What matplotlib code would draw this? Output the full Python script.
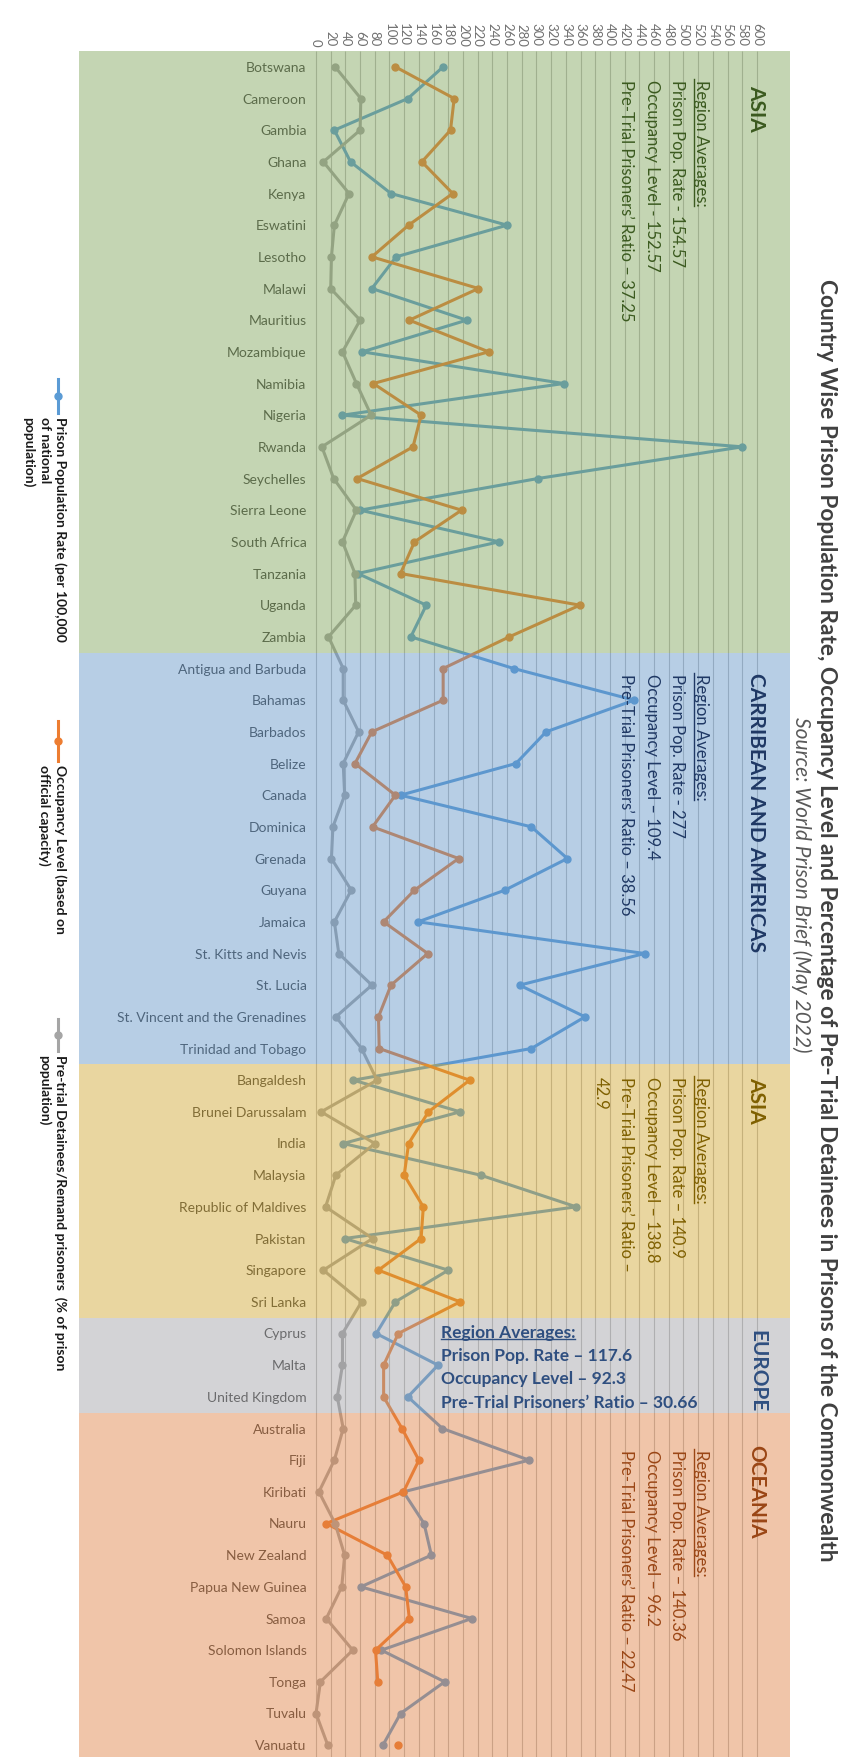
import numpy as np
import matplotlib.pyplot as plt
from matplotlib.lines import Line2D

plt.rcParams['font.family'] = ['Lato', 'DejaVu Sans']

W, H = 845, 1758

## Länder i samma ordning som i bilden (uppifrån och ned)
countries = [
    'Botswana', 'Cameroon', 'Gambia', 'Ghana', 'Kenya', 'Eswatini', 'Lesotho',
    'Malawi', 'Mauritius', 'Mozambique', 'Namibia', 'Nigeria', 'Rwanda',
    'Seychelles', 'Sierra Leone', 'South Africa', 'Tanzania', 'Uganda', 'Zambia',
    'Antigua and Barbuda', 'Bahamas', 'Barbados', 'Belize', 'Canada', 'Dominica',
    'Grenada', 'Guyana', 'Jamaica', 'St. Kitts and Nevis', 'St. Lucia',
    'St. Vincent and the Grenadines', 'Trinidad and Tobago',
    'Bangaldesh', 'Brunei Darussalam', 'India', 'Malaysia', 'Republic of Maldives',
    'Pakistan', 'Singapore', 'Sri Lanka',
    'Cyprus', 'Malta', 'United Kingdom',
    'Australia', 'Fiji', 'Kiribati', 'Nauru', 'New Zealand', 'Papua New Guinea',
    'Samoa', 'Solomon Islands', 'Tonga', 'Tuvalu', 'Vanuatu',
]

## Avlästa värden
prison_rate = [
    173, 125, 25, 47, 102, 260, 109, 76, 205, 63, 337, 36, 580, 302, 60, 249, 57, 150, 129,
    269, 433, 313, 272, 115, 293, 342, 257, 139, 447, 277, 366, 293,
    51, 196, 37, 224, 354, 39, 180, 108,
    82, 166, 125,
    172, 290, 119, 147, 157, 61, 212, 89, 175, 115, 91,
]
occupancy = [
    108, 188, 183, 144, 186, 126, 76, 221, 127, 235, 78, 143, 132, 56, 198, 134, 115, 359, 263,
    173, 173, 76, 53, 108, 77, 194, 134, 92, 152, 102, 85, 86,
    209, 153, 126, 120, 146, 143, 85, 196,
    112, 92, 92,
    117, 140, 119, 14, 97, 122, 127, 81, 84, np.nan, 112,
]
pretrial = [
    26, 61, 60, 10, 45, 25, 21, 20, 60, 36, 55, 75, 8, 24, 55, 36, 53, 54, 17,
    37, 37, 58, 37, 39, 23, 21, 48, 25, 31, 76, 27, 62,
    83, 7, 80, 27, 13, 77, 10, 62,
    36, 36, 29,
    37, 25, 4, 26, 39, 35, 14, 50, 6, 0, 16,
]

region_names = ['ASIA', 'CARRIBEAN AND AMERICAS', 'ASIA', 'EUROPE', 'OCEANIA']
region_sizes = [19, 13, 8, 3, 11]
region_stats = [
    ['Region Averages:', 'Prison Pop. Rate - 154.57', 'Occupancy Level - 152.57',
     'Pre-Trial Prisoners\u2019 Ratio \u2013 37.25'],
    ['Region Averages:', 'Prison Pop. Rate - 277', 'Occupancy Level \u2013 109.4',
     'Pre-Trial Prisoners\u2019 Ratio \u2013 38.56'],
    ['Region Averages:', 'Prison Pop. Rate \u2013 140.9', 'Occupancy Level \u2013 138.8',
     'Pre-Trial Prisoners\u2019 Ratio \u2013', '42.9'],
    ['Region Averages:', 'Prison Pop. Rate \u2013 117.6', 'Occupancy Level \u2013 92.3',
     'Pre-Trial Prisoners\u2019 Ratio \u2013 30.66'],
    ['Region Averages:', 'Prison Pop. Rate \u2013 140.36', 'Occupancy Level \u2013 96.2',
     'Pre-Trial Prisoners\u2019 Ratio \u2013 22.47'],
]
ticks = list(range(0, 601, 20))

legend_labels = [
    'Prison Population Rate (per 100,000\nof national\npopulation)',
    'Occupancy Level (based on\nofficial capacity)',
    'Pre-trial Detainees/Remand prisoners  (% of prison\npopulation)',
]

title = ('Country Wise Prison Population Rate, Occupancy Level and Percentage of '
         'Pre-Trial Detainees in Prisons of the Commonwealth')
subtitle = 'Source: World Prison Brief (May 2022)'

## Färger
line_colors = ['#5B9BD5', '#ED7D31', '#A5A5A5']
band_colors = ['#C5D5B4', '#B8CFE6', '#EAD6A0', '#D4D4D6', '#F0C6AA']
text_colors = ['#3B5A1F', '#1F3864', '#7F6000', '#2F4F80', '#9A4615']
band_alpha = 0.45


def fx(px):
    return px / W


def fy(py):
    return 1 - py / H


def overlay(hex_color, a):
    ## färg som ger bandfärgen ovanpå vitt med given alpha
    rgb = np.array([int(hex_color[i:i + 2], 16) for i in (1, 3, 5)]) / 255
    return tuple(np.clip((rgb - (1 - a)) / a, 0, 1))


fig = plt.figure(figsize=(W / 100, H / 100), dpi=100)
ax = fig.add_axes([fx(79), fy(1762), fx(790) - fx(79), fy(52) - fy(1762)])

k = (757 - 316) / 600
ax.set_xlim(-(316 - 79) / k, (790 - 316) / k)
ax.set_ylim(len(countries) - 0.5, -0.5)
y = np.arange(len(countries))

## grid
ax.vlines(ticks, -0.5, len(countries) - 0.5, color='#BDBDBD', lw=0.8, zorder=1)

for vals, c in zip([prison_rate, occupancy, pretrial], line_colors):
    ax.plot(vals, y, color=c, lw=2.2, marker='o', ms=5, zorder=3)

for i, name in enumerate(countries):
    ax.text(-13, i, name, ha='right', va='center', fontsize=10, color='#404040', zorder=4)

## halvgenomskinliga band ovanpå linjerna
start = 0
for size, bc in zip(region_sizes, band_colors):
    ax.axhspan(start - 0.5, start + size - 0.5, color=overlay(bc, band_alpha),
               alpha=band_alpha, lw=0, zorder=5)
    start += size

ax.xaxis.tick_top()
ax.set_xticks(ticks)
ax.set_xticklabels([str(t) for t in ticks], rotation=-90, fontsize=9.5, color='#707070')
ax.tick_params(axis='x', length=0, pad=4)
ax.set_yticks([])
for s in ax.spines.values():
    s.set_visible(False)

## regiontexter
name_starts = [85, 673, 1077, None, 1445]
stat_starts = [80, 674, 1077, None, 1450]
stat_cols = [701, 677, 652, 626, 601]
underlines = []
for r in range(5):
    col = text_colors[r]
    if r == 3:
        fig.text(fx(757), fy(1330), region_names[r], rotation=-90, ha='center', va='top',
                 fontsize=15, fontweight='bold', color=col)
        for j, (line, yy) in enumerate(zip(region_stats[r], [1333, 1356, 1379, 1403])):
            t = fig.text(fx(441), fy(yy), line, ha='left', va='center', fontsize=12.5,
                         fontweight='bold', color=col)
            if j == 0:
                underlines.append((t, 'h', col))
        continue
    fig.text(fx(756), fy(name_starts[r]), region_names[r], rotation=-90, ha='center',
             va='top', fontsize=15, fontweight='bold', color=col)
    for j, line in enumerate(region_stats[r]):
        t = fig.text(fx(stat_cols[j]), fy(stat_starts[r]), line, rotation=-90, ha='center',
                     va='top', fontsize=12, color=col)
        if j == 0:
            underlines.append((t, 'v', col))

## titel
fig.text(fx(826), fy(920), title, rotation=-90, ha='center', va='center',
         fontsize=16.3, fontweight='bold', color='#404040')
fig.text(fx(801), fy(885), subtitle, rotation=-90, ha='center', va='center',
         fontsize=15, style='italic', color='#595959')

## legend till vänster
legend_marks = [(380, 414), (722, 762), (1020, 1052)]
legend_starts = [417, 765, 1055]
for (y0, y1), ys, lab, c in zip(legend_marks, legend_starts, legend_labels, line_colors):
    fig.add_artist(Line2D([fx(58)] * 3, [fy(y0), fy((y0 + y1) / 2), fy(y1)], color=c, lw=2.2,
                          marker='o', ms=5, markevery=[1]))
    fig.text(fx(67), fy(ys), lab, rotation=-90, ha='right', va='top', fontsize=10,
             fontweight='bold', color='#1A1A1A', linespacing=1.35, multialignment='left')

## understrykning
fig.canvas.draw()
r = fig.canvas.get_renderer()
inv = fig.transFigure.inverted()
for t, kind, col in underlines:
    bb = t.get_window_extent(r)
    if kind == 'v':
        (x0, y0), (x1, y1) = inv.transform([(bb.x0 + 1, bb.y0), (bb.x0 + 1, bb.y1)])
    else:
        (x0, y0), (x1, y1) = inv.transform([(bb.x0, bb.y0 + 1), (bb.x1, bb.y0 + 1)])
    fig.add_artist(Line2D([x0, x1], [y0, y1], color=col, lw=1))

fig.savefig('out.png', dpi=100, facecolor='white')
